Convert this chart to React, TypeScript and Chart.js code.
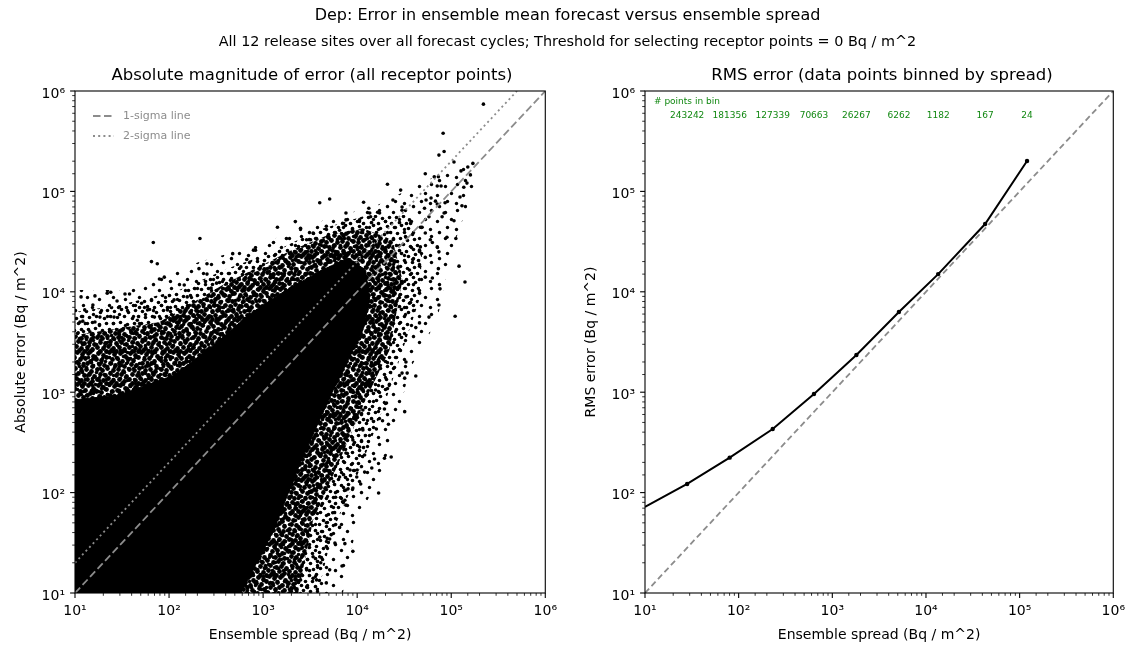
import React, { useEffect, useRef } from "react";
import { Chart, registerables } from "chart.js";

Chart.register(...registerables);

const FONT = "'DejaVu Sans', 'Liberation Sans', sans-serif";

// ---------- text ----------
const supTitle = "Dep: Error in ensemble mean forecast versus ensemble spread";
const subTitle =
  "All 12 release sites over all forecast cycles; Threshold for selecting receptor points = 0 Bq / m^2";
const leftTitle = "Absolute magnitude of error (all receptor points)";
const rightTitle = "RMS error (data points binned by spread)";
const xAxisLabel = "Ensemble spread (Bq / m^2)";
const leftYAxisLabel = "Absolute error (Bq / m^2)";
const rightYAxisLabel = "RMS error (Bq / m^2)";
const legendLabels = ["1-sigma line", "2-sigma line"];
const binHeader = "# points in bin";

// ---------- axes ----------
const axisMin = 10;
const axisMax = 1e6;
const tickExponents = [1, 2, 3, 4, 5, 6];
const superscripts: Record<number, string> = {
  1: "\u00B9",
  2: "\u00B2",
  3: "\u00B3",
  4: "\u2074",
  5: "\u2075",
  6: "\u2076",
};

// ---------- reference lines ----------
const oneSigmaSpread = [10, 1e6];
const oneSigmaError = [10, 1e6];
const twoSigmaSpread = [10, 5e5];
const twoSigmaError = [20, 1e6];

// ---------- left panel: solid core of the point cloud (outline) ----------
const coreSpread = [10, 10, 30, 114, 300, 700, 1450, 3840, 7960, 12300, 13600, 11500, 5140, 2480, 1290, 580, 10];
const coreError = [10, 840, 940, 1480, 2950, 5870, 9300, 15700, 21700, 16500, 8300, 4170, 900, 197, 42, 10, 10];

// ---------- left panel: dense speckled fringe (outline) ----------
const fringeSpread = [10, 10, 23, 79, 400, 890, 2000, 4900, 11500, 23800, 30300, 22100, 12300, 6550, 3400, 2360, 10];
const fringeError = [10, 3700, 4200, 5000, 12200, 17700, 26000, 36800, 43000, 32800, 13100, 2630, 840, 211, 53, 10, 10];

// ---------- left panel: medium-density halo (outline) ----------
const haloSpread = [10, 10, 30, 128, 432, 1290, 3840, 12900, 34200, 49200, 45700, 28100, 18600, 10600, 5530, 3840, 10];
const haloError = [10, 6300, 7400, 10400, 17300, 24900, 41300, 58200, 58200, 26000, 8280, 2090, 665, 168, 42, 10, 10];

// ---------- left panel: sparse scatter zone (outline) ----------
const sparseSpread = [10, 10, 38, 208, 890, 3840, 16500, 55600, 147000, 178000, 102000, 70800, 35900, 26800, 18600, 10100, 7050, 10];
const sparseError = [10, 10400, 10400, 19800, 29200, 49500, 73000, 130000, 183000, 116000, 26000, 5240, 1660, 530, 168, 53, 10, 10];

// ---------- left panel: individual scattered points ----------
const outlierSpread = [
  2.2e5, 8.2e4, 8.4e4, 7.4e4, 1.07e5, 1.7e5, 1.5e5, 1.6e5, 1.27e5, 5.3e4,
  6.6e4, 7.3e4, 7.1e4, 7.8e4, 1.47e5, 1.36e5, 2.1e4, 2.9e4, 1.24e5, 1.3e5,
  6.1e4, 6.8e4, 7.1e4, 5.4e4, 5.2e4, 8.6e4, 8.0e4, 8.4e4, 1.07e5, 9.0e4,
  1.12e5, 5.1e3, 4.0e3, 1.17e4, 1.33e4, 2.4e4, 3.0e4, 7.6e3, 1.42e3, 2.2e3,
  2.5e3, 68, 213, 475, 830, 1.29e3, 1.77e3, 3.2e3, 4.7e3, 7.0e3,
  1.39e4, 1.65e4, 3.7e4, 4.7e4, 6.0e4, 7.1e4, 4.7e4, 65, 75, 208,
  253, 253, 89, 79, 11.6, 16.3, 22, 24, 34, 38,
  28, 15.5, 51, 70, 11.3, 14.4, 18.4, 1.21e5, 1.4e5, 7.4e4,
  1.1e5, 5.8e4, 7.6e4, 6.3e4, 7.3e4, 7.4e4, 6.3e4, 3.9e4, 4.6e4, 4.6e4,
  4.2e4, 4.2e4, 3.3e4, 3.0e4, 3.4e4, 3.2e4, 2.2e4, 3.2e4, 1.6e4, 1.86e4,
  2.15e4, 1.95e4, 2.05e4, 2.3e4, 1.95e4, 1.53e4, 1.43e4, 1.2e4, 9.9e3, 1.09e4,
  1.69e4, 9.0e3, 6.9e3, 5.1e3, 4.7e3, 7.4e3, 5.8e3, 5.1e3, 4.0e3, 4.1e3,
  3.7e3, 3.4e3, 2.9e3, 7.0e3, 7.6e3, 6.5e3, 5.9e3, 1.2e4, 1.0e4, 9.0e3,
  8.0e3, 7.4e3, 5.3e3, 4.8e3, 3.8e3, 12.1, 10.8, 670, 790, 580,
  450, 320, 280, 145, 156, 113, 96, 59, 46, 26,
  16.3, 12.7, 2.9e3, 3.4e3, 6.5e3, 7.6e3, 1.06e4, 1.36e4, 1.73e4, 3.0e4,
  3.6e4, 4.9e4, 5.8e4, 5.3e4, 4.6e4, 5.3e4, 3.3e4, 3.6e4, 3.0e4, 3.3e4,
  2.55e4, 3.6e4, 4.6e4, 5.3e4, 1.46e4, 1.73e4, 1.23e4, 1.46e4, 1.23e4, 1.57e4,
  1.06e4, 1.15e4, 9.7e3, 1.15e4, 9.0e3, 1.06e4, 7.6e3, 8.4e3, 6.5e3, 7.6e3,
  5.9e3, 5.5e3, 4.7e3, 4.0e3, 4.7e3, 3.4e3, 2.9e3, 2.5e3,
];
const outlierError = [
  7.4e5, 3.8e5, 2.5e5, 2.3e5, 1.96e5, 1.9e5, 1.75e5, 1.46e5, 1.6e5, 1.5e5,
  1.4e5, 1.4e5, 1.13e5, 1.13e5, 1.21e5, 1.1e5, 1.18e5, 1.03e5, 8.8e4, 7.2e4,
  8.6e4, 8.0e4, 7.5e4, 8.2e4, 6.8e4, 7.7e4, 5.6e4, 6.1e4, 5.1e4, 3.5e4,
  3.4e4, 8.4e4, 7.7e4, 7.8e4, 6.8e4, 8.2e4, 7.0e4, 6.1e4, 4.4e4, 5.0e4,
  4.3e4, 3.1e4, 3.4e4, 2.4e4, 2.6e4, 3.1e4, 3.4e4, 3.3e4, 4.5e4, 4.8e4,
  5.6e4, 6.2e4, 4.8e4, 4.4e4, 3.3e4, 2.8e4, 2.8e4, 2.0e4, 1.9e4, 1.7e4,
  1.9e4, 1.5e4, 1.4e4, 1.34e4, 8.9e3, 9.1e3, 9.7e3, 9.9e3, 9.5e3, 9.5e3,
  8.1e3, 7.4e3, 7.7e3, 5.6e3, 5.0e3, 4.0e3, 5.6e3, 1.8e4, 1.25e4, 7.4e3,
  5.7e3, 5.6e3, 1.07e4, 1.37e4, 1.7e4, 2.5e4, 3.1e4, 2.1e4, 1.8e4, 4.9e3,
  4.4e3, 1.45e3, 2.0e3, 1.55e3, 1.55e3, 1.38e3, 1.2e3, 640, 430, 520,
  480, 680, 780, 226, 220, 216, 176, 160, 143, 122,
  99, 26, 18.6, 17, 12.6, 31, 31.5, 34.5, 23, 20,
  13.5, 14, 11.5, 81, 75, 45, 48, 237, 168, 111,
  109, 84, 38, 35, 18, 5.1e3, 3.9e3, 2.1e4, 2.6e4, 1.77e4,
  1.3e4, 1.22e4, 1.09e4, 1.17e4, 8.9e3, 8.3e3, 6.6e3, 6.6e3, 5.2e3, 5.6e3,
  5.0e3, 6.6e3, 3.3e4, 3.85e4, 4.1e4, 5.2e4, 5.2e4, 6.1e4, 6.1e4, 6.5e4,
  5.2e4, 4.4e4, 5.6e4, 3.85e4, 2.6e4, 2.2e4, 3.5e4, 1.65e4, 1.22e4, 8.9e3,
  6.6e3, 7.7e3, 9.7e3, 1.4e4, 2.6e3, 2.2e3, 1.95e3, 1.55e3, 1.13e3, 1.05e3,
  900, 665, 530, 420, 334, 284, 248, 168, 143, 106,
  90, 63, 50, 36, 29, 23, 17, 13.5,
];

// ---------- right panel: binned RMS error ----------
const lineEntrySpread = 10;
const lineEntryRms = 72;
const binSpread = [28.2, 80.2, 231, 637, 1808, 5140, 13500, 42800, 120000];
const binRmsError = [122, 223, 430, 960, 2346, 6290, 15000, 47300, 201000];
const binCounts = [243242, 181356, 127339, 70663, 26267, 6262, 1182, 167, 24];

// ---------- speckle fill styles (texture tiles, not data) ----------
const DENSE_TILE = 32;
const denseDots = [
  [2, 1], [7, 3], [13, 0], [18, 2], [24, 1], [29, 4],
  [0, 7], [5, 8], [10, 5], [16, 7], [21, 6], [26, 9], [31, 6],
  [3, 12], [8, 13], [14, 11], [19, 13], [23, 11], [28, 14],
  [1, 17], [6, 18], [11, 16], [17, 18], [22, 17], [27, 19],
  [4, 22], [9, 23], [14, 21], [20, 23], [25, 22], [30, 24],
  [1, 27], [7, 28], [12, 26], [17, 28], [23, 27], [28, 29],
  [4, 31], [10, 31], [15, 30], [20, 31], [26, 31],
];
const HALO_TILE = 28;
const haloDots = [
  [2, 3], [9, 1], [16, 4], [23, 2], [5, 9], [12, 8], [20, 10], [26, 8],
  [1, 15], [8, 14], [15, 16], [22, 15], [4, 21], [11, 20], [18, 22], [25, 21],
  [7, 26], [14, 27], [21, 25], [27, 27],
];
const SPARSE_TILE = 26;
const sparseDots = [[3, 4], [15, 2], [9, 11], [21, 13], [5, 19], [14, 21], [23, 24]];

function makeSpeckle(size: number, dots: number[][], r: number) {
  const c = document.createElement("canvas");
  c.width = size;
  c.height = size;
  const g = c.getContext("2d")!;
  g.fillStyle = "#000";
  for (const [x, y] of dots) {
    for (const dx of [-size, 0, size]) {
      for (const dy of [-size, 0, size]) {
        g.beginPath();
        g.arc(x + dx + 0.5, y + dy + 0.5, r, 0, Math.PI * 2);
        g.fill();
      }
    }
  }
  return document.createElement("canvas").getContext("2d")!.createPattern(c, "repeat");
}

// ---------- helpers ----------
const zip = (xs: number[], ys: number[]) => xs.map((x, i) => ({ x, y: ys[i] }));

const isPow10 = (v: number) => {
  const e = Math.log10(v);
  return Math.abs(e - Math.round(e)) < 1e-9;
};

const tickLabel = (value: any) => {
  const v = Number(value);
  if (!isPow10(v)) return "";
  const e = Math.round(Math.log10(v));
  if (!tickExponents.includes(e)) return "";
  return "10" + superscripts[e];
};

const mplAxesPlugin = {
  id: "mplAxes",
  afterDraw(chart: any) {
    const { ctx, chartArea: a, scales } = chart;
    const xs = scales.x;
    const ys = scales.y;
    ctx.save();
    ctx.strokeStyle = "#000";
    for (const t of xs.ticks) {
      const px = xs.getPixelForValue(t.value);
      const major = isPow10(t.value);
      ctx.lineWidth = major ? 1.1 : 0.8;
      ctx.beginPath();
      ctx.moveTo(px, a.bottom);
      ctx.lineTo(px, a.bottom + (major ? 4.9 : 2.8));
      ctx.stroke();
    }
    for (const t of ys.ticks) {
      const py = ys.getPixelForValue(t.value);
      const major = isPow10(t.value);
      ctx.lineWidth = major ? 1.1 : 0.8;
      ctx.beginPath();
      ctx.moveTo(a.left, py);
      ctx.lineTo(a.left - (major ? 4.9 : 2.8), py);
      ctx.stroke();
    }
    ctx.lineWidth = 1.1;
    ctx.strokeRect(a.left, a.top, a.right - a.left, a.bottom - a.top);
    ctx.restore();
  },
};

const legendPlugin = {
  id: "sigmaLegend",
  afterDraw(chart: any) {
    const { ctx, chartArea: a } = chart;
    ctx.save();
    const rows = [
      { dash: [7.5, 3.5], y: a.top + 25 },
      { dash: [2, 3.2], y: a.top + 45 },
    ];
    rows.forEach((r, i) => {
      ctx.strokeStyle = "#8c8c8c";
      ctx.lineWidth = 1.8;
      ctx.setLineDash(r.dash);
      ctx.beginPath();
      ctx.moveTo(a.left + 18, r.y);
      ctx.lineTo(a.left + 39, r.y);
      ctx.stroke();
      ctx.setLineDash([]);
      ctx.fillStyle = "#8c8c8c";
      ctx.font = `11px ${FONT}`;
      ctx.textBaseline = "middle";
      ctx.textAlign = "left";
      ctx.fillText(legendLabels[i], a.left + 48, r.y);
    });
    ctx.restore();
  },
};

const countsPlugin = {
  id: "binCounts",
  afterDraw(chart: any) {
    const { ctx, chartArea: a, scales } = chart;
    ctx.save();
    ctx.fillStyle = "#118811";
    ctx.font = `9px ${FONT}`;
    ctx.textBaseline = "middle";
    ctx.textAlign = "left";
    ctx.fillText(binHeader, a.left + 9, a.top + 11);
    ctx.textAlign = "center";
    binSpread.forEach((s, i) => {
      ctx.fillText(String(binCounts[i]), scales.x.getPixelForValue(s), a.top + 25);
    });
    ctx.restore();
  },
};

function makeScales(yLabel: string) {
  const tickFont = { family: FONT, size: 14 };
  const titleFont = { family: FONT, size: 14 };
  return {
    x: {
      type: "logarithmic",
      position: "bottom",
      min: axisMin,
      max: axisMax,
      grid: { display: false, drawTicks: false },
      border: { display: false },
      ticks: {
        autoSkip: false,
        maxRotation: 0,
        padding: 10,
        color: "#000",
        font: tickFont,
        callback: tickLabel,
      },
      title: { display: true, text: xAxisLabel, color: "#000", font: titleFont, padding: { top: 4, bottom: 6 } },
      afterFit: (s: any) => {
        s.height = 57;
      },
    },
    y: {
      type: "logarithmic",
      position: "left",
      min: axisMin,
      max: axisMax,
      grid: { display: false, drawTicks: false },
      border: { display: false },
      ticks: {
        autoSkip: false,
        padding: 10,
        labelOffset: 3,
        color: "#000",
        font: tickFont,
        callback: tickLabel,
      },
      title: { display: true, text: yLabel, color: "#000", font: titleFont, padding: { top: 4, bottom: 4 } },
      afterFit: (s: any) => {
        s.width = 66;
      },
    },
  };
}

function polygon(xs: number[], ys: number[], fillStyle: any) {
  return {
    data: zip(xs, ys),
    showLine: true,
    fill: "shape",
    backgroundColor: fillStyle,
    borderColor: "rgba(0,0,0,0)",
    borderWidth: 1,
    pointRadius: 0,
    tension: 0,
  };
}

function LeftPanel() {
  const ref = useRef<HTMLCanvasElement | null>(null);
  useEffect(() => {
    if (!ref.current) return;
    const densePattern = makeSpeckle(DENSE_TILE, denseDots, 2.4);
    const haloPattern = makeSpeckle(HALO_TILE, haloDots, 1.8);
    const sparsePattern = makeSpeckle(SPARSE_TILE, sparseDots, 1.7);
    const corePoly: any = polygon(coreSpread, coreError, "#000");
    corePoly.borderColor = "#000";
    const chart = new Chart(ref.current, {
      type: "scatter",
      data: {
        datasets: [
          {
            data: zip(oneSigmaSpread, oneSigmaError),
            showLine: true,
            borderColor: "#8c8c8c",
            borderWidth: 1.8,
            borderDash: [7.5, 3.5],
            pointRadius: 0,
          },
          {
            data: zip(twoSigmaSpread, twoSigmaError),
            showLine: true,
            borderColor: "#8c8c8c",
            borderWidth: 1.8,
            borderDash: [2, 3.2],
            pointRadius: 0,
          },
          {
            data: zip(outlierSpread, outlierError),
            pointRadius: 1.8,
            pointBackgroundColor: "#000",
            pointBorderWidth: 0,
            pointBorderColor: "#000",
          },
          corePoly,
          polygon(fringeSpread, fringeError, densePattern),
          polygon(haloSpread, haloError, haloPattern),
          polygon(sparseSpread, sparseError, sparsePattern),
        ],
      } as any,
      options: {
        animation: false,
        responsive: false,
        events: [],
        layout: { padding: { left: 9, right: 18, top: 91, bottom: 0 } },
        plugins: { legend: { display: false }, tooltip: { enabled: false }, title: { display: false } },
        scales: makeScales(leftYAxisLabel) as any,
      },
      plugins: [mplAxesPlugin, legendPlugin],
    });
    return () => chart.destroy();
  }, []);
  return <canvas ref={ref} width={567} height={650} style={{ position: "absolute", left: 0, top: 0 }} />;
}

function RightPanel() {
  const ref = useRef<HTMLCanvasElement | null>(null);
  useEffect(() => {
    if (!ref.current) return;
    const lineData = [{ x: lineEntrySpread, y: lineEntryRms }, ...zip(binSpread, binRmsError)];
    const chart = new Chart(ref.current, {
      type: "scatter",
      data: {
        datasets: [
          {
            data: lineData,
            showLine: true,
            borderColor: "#000",
            borderWidth: 2,
            pointRadius: lineData.map((_, i) => (i === 0 ? 0 : 2.2)),
            pointBackgroundColor: "#000",
            pointBorderWidth: 0,
            tension: 0,
          },
          {
            data: zip(oneSigmaSpread, oneSigmaError),
            showLine: true,
            borderColor: "#8c8c8c",
            borderWidth: 1.8,
            borderDash: [6, 3.5],
            pointRadius: 0,
          },
        ],
      } as any,
      options: {
        animation: false,
        responsive: false,
        events: [],
        layout: { padding: { left: 12, right: 16, top: 91, bottom: 0 } },
        plugins: { legend: { display: false }, tooltip: { enabled: false }, title: { display: false } },
        scales: makeScales(rightYAxisLabel) as any,
      },
      plugins: [mplAxesPlugin, countsPlugin],
    });
    return () => chart.destroy();
  }, []);
  return <canvas ref={ref} width={568} height={650} style={{ position: "absolute", left: 567, top: 0 }} />;
}

function TextLine(props: { text: string; cx: number; cy: number; size: number; width: number }) {
  const lh = Math.round(props.size * 1.3);
  return (
    <div
      style={{
        position: "absolute",
        left: props.cx - props.width / 2,
        top: props.cy - lh / 2,
        width: props.width,
        height: lh,
        lineHeight: `${lh}px`,
        textAlign: "center",
        fontFamily: FONT,
        fontSize: props.size,
        color: "#000",
        whiteSpace: "nowrap",
      }}
    >
      {props.text}
    </div>
  );
}

export default function App() {
  return (
    <div
      style={{
        position: "absolute",
        left: 0,
        top: 0,
        width: 1135,
        height: 650,
        background: "#fff",
        overflow: "hidden",
      }}
    >
      <LeftPanel />
      <RightPanel />
      <TextLine text={supTitle} cx={567.5} cy={14} size={16} width={1100} />
      <TextLine text={subTitle} cx={567.5} cy={41} size={14.4} width={1100} />
      <TextLine text={leftTitle} cx={312} cy={74} size={16.5} width={540} />
      <TextLine text={rightTitle} cx={882} cy={74} size={16.5} width={540} />
    </div>
  );
}
